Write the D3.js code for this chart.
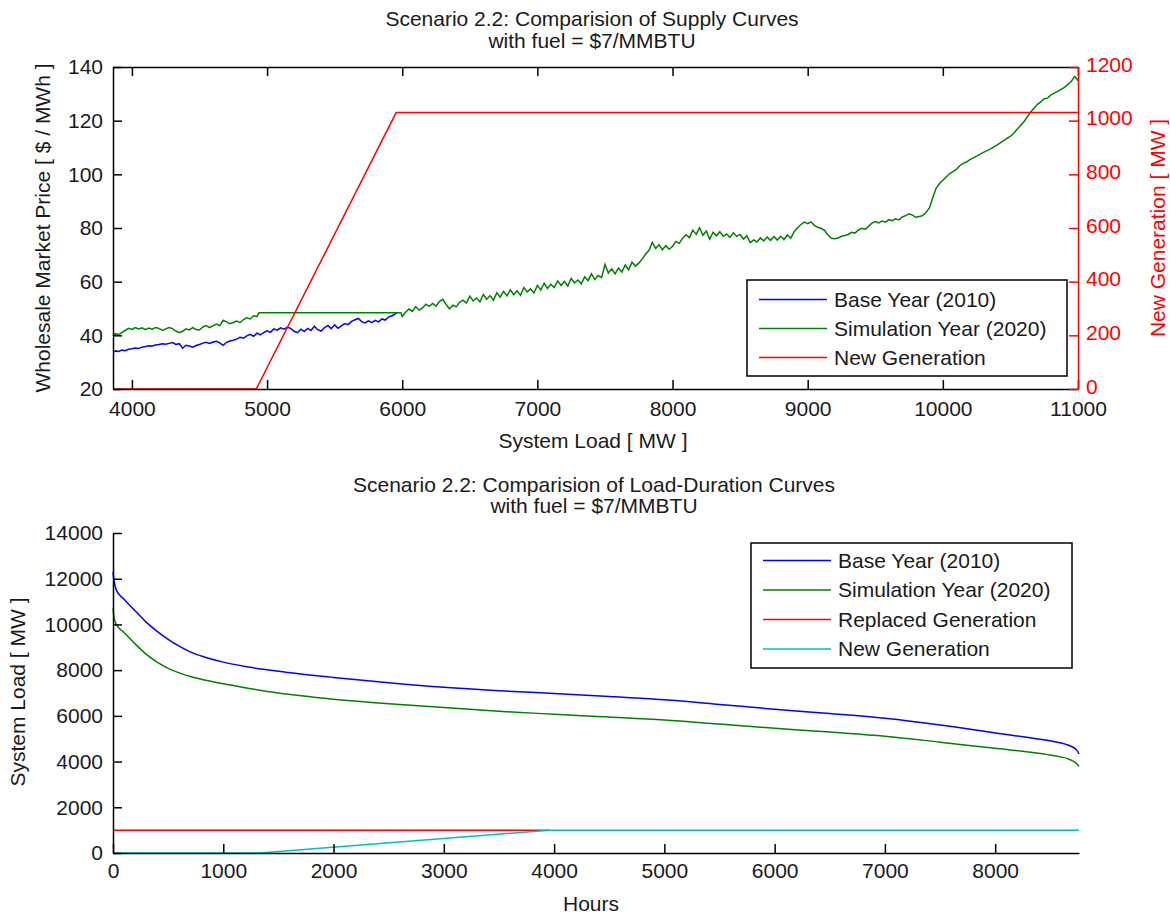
<!DOCTYPE html>
<html>
<head>
<meta charset="utf-8">
<script src="https://cdn.jsdelivr.net/npm/d3@7"></script>
<style>
  body { margin: 0; background: #fff; }
  svg { display: block; font-family: "Liberation Sans", Arial, sans-serif; }
</style>
</head>
<body>
<div id="chart"></div>
<script>
// ---- data: supply curves (load MW, price $/MWh) ----
const baseSupply = [
  [3860,33.6],[3880,34.2],[3900,34.0],[3925,34.5],[3950,34.3],[3975,34.8],[4000,35.0],[4025,35.3],[4050,35.1],[4075,35.6],
  [4100,35.8],[4125,36.1],[4150,36.0],[4175,36.4],[4200,36.6],[4225,36.9],[4250,36.7],[4275,37.0],[4300,37.3],[4325,36.6],
  [4350,36.9],[4375,35.2],[4400,36.3],[4425,36.0],[4450,35.6],[4475,36.2],[4500,36.6],[4525,37.1],[4550,37.4],[4575,37.0],
  [4600,37.5],[4625,37.8],[4650,37.2],[4675,36.3],[4700,37.4],[4725,37.9],[4750,38.2],[4775,38.6],[4800,39.3],[4825,38.9],
  [4850,39.8],[4875,40.4],[4900,39.6],[4925,40.8],[4950,40.2],[4975,41.0],[5000,41.7],[5025,41.1],[5050,42.4],[5075,41.9],
  [5100,42.8],[5125,42.3],[5150,43.0],[5175,42.6],[5200,41.5],[5225,41.0],[5250,42.3],[5275,41.4],[5300,42.6],[5325,41.8],
  [5350,43.4],[5375,42.1],[5400,41.6],[5425,42.9],[5450,43.7],[5475,42.5],[5500,43.9],[5525,42.6],[5550,43.5],[5575,44.4],
  [5600,44.0],[5625,45.2],[5650,45.8],[5675,46.3],[5700,45.1],[5725,44.6],[5750,45.4],[5775,44.7],[5800,45.6],[5825,45.0],
  [5850,46.1],[5875,45.7],[5900,46.9],[5925,47.3],[5950,48.0],[5960,48.4]
];

const simSupply = [
  [3860,39.8],[3880,40.6],[3900,40.2],[3925,41.0],[3950,41.8],[3975,42.6],[4000,42.2],[4025,42.9],[4050,42.4],[4075,42.8],
  [4100,42.1],[4125,42.7],[4150,42.3],[4175,42.9],[4200,42.6],[4225,41.8],[4250,42.4],[4275,42.9],[4300,42.5],[4325,41.6],
  [4350,41.0],[4375,41.5],[4400,42.4],[4425,42.0],[4450,42.9],[4475,42.2],[4500,42.0],[4525,43.1],[4550,43.6],[4575,42.9],
  [4600,43.5],[4625,44.2],[4650,43.6],[4675,45.6],[4700,45.0],[4725,44.3],[4750,44.8],[4775,45.3],[4800,44.7],[4825,45.9],
  [4850,46.5],[4875,46.1],[4900,47.3],[4925,47.0],[4940,48.4],[5990,48.4],
  [6000,47.0],[6025,48.6],[6050,49.8],[6075,48.9],[6100,50.7],[6125,49.4],[6150,50.2],[6175,51.6],[6200,50.8],[6225,51.9],
  [6250,50.9],[6275,52.6],[6300,53.4],[6325,51.5],[6350,49.9],[6375,51.2],[6400,50.6],[6425,52.4],[6450,53.1],[6475,52.0],
  [6500,54.6],[6525,52.8],[6550,53.9],[6575,52.5],[6600,55.2],[6625,53.4],[6650,54.8],[6675,53.1],[6700,55.9],[6725,54.2],
  [6750,56.4],[6775,54.7],[6800,57.0],[6825,55.1],[6850,56.6],[6875,54.9],[6900,57.8],[6925,56.2],[6950,57.3],[6975,55.8],
  [7000,58.6],[7025,56.9],[7050,59.4],[7075,57.5],[7100,59.0],[7125,57.8],[7150,60.3],[7175,58.6],[7200,60.1],[7225,58.4],
  [7250,61.2],[7275,59.5],[7300,60.6],[7325,59.2],[7350,61.8],[7375,60.4],[7400,62.9],[7425,60.8],[7450,62.3],[7475,61.5],
  [7500,66.4],[7525,63.2],[7550,64.8],[7575,62.9],[7600,65.1],[7625,63.6],[7650,66.2],[7675,64.4],[7700,67.3],[7725,65.8],
  [7750,66.9],[7775,68.4],[7800,70.2],[7825,71.6],[7850,74.6],[7875,72.4],[7900,73.8],[7925,71.9],[7950,73.4],[7975,72.1],
  [8000,73.2],[8025,75.0],[8050,74.3],[8075,76.2],[8100,77.5],[8125,76.4],[8150,79.2],[8175,77.6],[8200,80.1],[8225,77.3],
  [8250,78.9],[8275,75.8],[8300,78.4],[8325,77.1],[8350,78.6],[8375,76.9],[8400,77.8],[8425,76.5],[8450,78.2],[8475,76.9],
  [8500,77.6],[8525,75.9],[8550,77.1],[8575,74.6],[8600,75.6],[8625,74.8],[8650,76.3],[8675,75.2],[8700,76.6],[8725,75.4],
  [8750,76.8],[8775,75.5],[8800,76.9],[8825,75.7],[8850,77.4],[8875,76.2],[8900,78.6],[8925,80.1],[8950,81.3],[8975,82.2],
  [9000,81.6],[9025,82.3],[9050,80.9],[9075,80.3],[9100,79.8],[9125,79.1],[9150,77.4],[9175,76.2],[9200,76.0],[9225,76.3],
  [9250,76.9],[9275,77.2],[9300,77.6],[9325,78.4],[9350,78.1],[9375,79.3],[9400,79.9],[9425,79.5],[9450,80.6],[9475,81.8],
  [9500,82.4],[9525,81.9],[9550,82.6],[9575,82.2],[9600,83.1],[9625,82.7],[9650,83.4],[9675,83.0],[9700,84.1],[9725,84.6],
  [9750,85.3],[9775,84.8],[9800,84.0],[9825,84.3],[9850,84.6],[9875,85.8],[9900,87.4],[9925,91.2],[9950,94.8],[9975,96.6],
  [10000,97.8],[10025,99.0],[10050,100.3],[10075,101.0],[10100,101.8],[10125,103.2],[10150,104.1],[10175,104.6],[10200,105.5],
  [10250,106.8],[10300,108.2],[10350,109.4],[10400,110.9],[10450,112.6],[10500,114.2],[10525,115.3],[10550,116.8],[10600,119.6],
  [10650,123.2],[10700,126.1],[10725,127.0],[10750,128.2],[10775,128.4],[10800,129.6],[10850,130.9],[10900,132.4],[10950,134.6],
  [10975,136.4],[10990,135.7],[11000,134.9]
];

// new generation on the right axis (MW)
const newGenLoad = [3860, 4920, 5955, 11000];
const newGenMW = [0, 0, 1030, 1030];

// ---- data: load-duration curves ----
const hours = [0, 10, 30, 100, 200, 300, 400, 500, 600, 700, 800, 1000, 1200, 1500, 2000, 2500, 3000, 3500,
  4000, 4500, 5000, 5500, 6000, 6500, 7000, 7500, 8000, 8300, 8540, 8680, 8740, 8760];
const baseLoad = [12300, 11900, 11500, 11100, 10600, 10100, 9700, 9350, 9050, 8800, 8620, 8350, 8160, 7950, 7680, 7450, 7250, 7100,
  6980, 6850, 6700, 6500, 6290, 6100, 5890, 5600, 5250, 5050, 4870, 4680, 4500, 4330];
const simLoad = [10700, 10300, 10000, 9650, 9150, 8700, 8350, 8080, 7880, 7720, 7600, 7400, 7230, 7000, 6730, 6530, 6370, 6200,
  6070, 5950, 5820, 5640, 5460, 5290, 5110, 4850, 4580, 4420, 4250, 4080, 3900, 3780];
const replacedHours = [0, 3960];
const replacedMW = [1000, 1000];
const newHours = [0, 1330, 3960, 8760];
const newMW = [0, 0, 1000, 1000];

// ---- ticks ----
const loadTicks = [4000, 5000, 6000, 7000, 8000, 9000, 10000, 11000];
const priceTicks = [20, 40, 60, 80, 100, 120, 140];
const genTicks = [0, 200, 400, 600, 800, 1000, 1200];
const hourTicks = [0, 1000, 2000, 3000, 4000, 5000, 6000, 7000, 8000];
const ldTicks = [0, 2000, 4000, 6000, 8000, 10000, 12000, 14000];

const width = 1170;
const height = 916;
const BLUE = '#0000ff';
const GREEN = '#008000';
const RED = '#ff0000';
const CYAN = '#00bfbf';
const INK = '#1a1a1a';
const FONT = 21;
const TICK = 9;
const fmt = d3.format('d');

const svg = d3.select('#chart').append('svg')
  .attr('width', width)
  .attr('height', height);

svg.append('rect').attr('width', width).attr('height', height).attr('fill', '#fff');

const styleAxis = (g, color) => {
  g.attr('font-size', FONT).attr('font-family', null);
  g.select('.domain').attr('stroke', color).attr('stroke-width', 1.5);
  g.selectAll('.tick line').attr('stroke', color).attr('stroke-width', 1.5);
  g.selectAll('.tick text').attr('fill', color === '#000' ? INK : color);
};

const addText = (txt, x, y, opts = {}) => {
  const t = svg.append('text')
    .attr('x', x).attr('y', y)
    .attr('text-anchor', 'middle')
    .attr('font-size', FONT)
    .attr('fill', opts.color || INK)
    .text(txt);
  if (opts.rotate) {
    t.attr('x', 0).attr('y', 0).attr('dy', '0.35em')
      .attr('transform', `translate(${x},${y}) rotate(-90)`);
  }
  return t;
};

const drawLegend = (box, items) => {
  const g = svg.append('g');
  g.append('rect')
    .attr('x', box.x).attr('y', box.y)
    .attr('width', box.w).attr('height', box.h)
    .attr('fill', '#fff').attr('stroke', '#000').attr('stroke-width', 1.5);
  items.forEach((it, i) => {
    const cy = box.firstRow + i * box.step;
    g.append('line')
      .attr('x1', box.x + 12).attr('x2', box.x + 80)
      .attr('y1', cy).attr('y2', cy)
      .attr('stroke', it.color).attr('stroke-width', 1.5);
    g.append('text')
      .attr('x', box.x + 87).attr('y', cy).attr('dy', '0.35em')
      .attr('font-size', FONT).attr('fill', INK)
      .text(it.label);
  });
};

// ================= top panel: supply curves =================
const p1 = { left: 113, right: 1078, top: 67, bottom: 389 };
const x1 = d3.scaleLinear().domain([3860, 11000]).range([p1.left, p1.right]);
const y1 = d3.scaleLinear().domain([20, 140]).range([p1.bottom, p1.top]);
const y1r = d3.scaleLinear().domain([0, 1200]).range([p1.bottom, p1.top]);

const supplyLine = d3.line().x(d => x1(d[0])).y(d => y1(d[1]));

svg.append('path').datum(baseSupply)
  .attr('d', supplyLine).attr('fill', 'none').attr('stroke', BLUE).attr('stroke-width', 1.5);
svg.append('path').datum(simSupply)
  .attr('d', supplyLine).attr('fill', 'none').attr('stroke', GREEN).attr('stroke-width', 1.5);
svg.append('path').datum(newGenLoad.map((v, i) => [v, newGenMW[i]]))
  .attr('d', d3.line().x(d => x1(d[0])).y(d => y1r(d[1])))
  .attr('fill', 'none').attr('stroke', RED).attr('stroke-width', 1.5);

svg.append('g').attr('transform', `translate(0,${p1.bottom})`)
  .call(d3.axisBottom(x1).tickValues(loadTicks).tickFormat(fmt).tickSizeInner(-TICK).tickSizeOuter(0).tickPadding(12))
  .call(g => styleAxis(g, '#000'));
svg.append('g').attr('transform', `translate(0,${p1.top})`)
  .call(d3.axisTop(x1).tickValues(loadTicks).tickSizeInner(-TICK).tickSizeOuter(0).tickFormat(''))
  .call(g => styleAxis(g, '#000'));
svg.append('g').attr('transform', `translate(${p1.left},0)`)
  .call(d3.axisLeft(y1).tickValues(priceTicks).tickFormat(fmt).tickSizeInner(-TICK).tickSizeOuter(0).tickPadding(10))
  .call(g => styleAxis(g, '#000'));
svg.append('g').attr('transform', `translate(${p1.right},0)`)
  .call(d3.axisRight(y1r).tickValues(genTicks).tickFormat(fmt).tickSizeInner(-TICK).tickSizeOuter(0).tickPadding(8))
  .call(g => styleAxis(g, RED))
  .call(g => g.selectAll('.tick text').attr('dy', '0.2em'));

addText('Scenario 2.2: Comparision of Supply Curves', 592, 26);
addText('with fuel = $7/MMBTU', 592, 48);
addText('System Load [ MW ]', 593, 448);
addText('Wholesale Market Price [ $ / MWh ]', 43, 228, { rotate: true });
addText('New Generation [ MW ]', 1158, 228, { rotate: true, color: RED });

drawLegend({ x: 747, y: 280, w: 320, h: 96, firstRow: 299.5, step: 29 }, [
  { label: 'Base Year (2010)', color: BLUE },
  { label: 'Simulation Year (2020)', color: GREEN },
  { label: 'New Generation', color: RED }
]);

// ================= bottom panel: load-duration curves =================
const p2 = { left: 113, right: 1079, top: 533, bottom: 853 };
const x2 = d3.scaleLinear().domain([0, 8760]).range([p2.left, p2.right]);
const y2 = d3.scaleLinear().domain([0, 14000]).range([p2.bottom, p2.top]);

const ldLine = d3.line().x(d => x2(d[0])).y(d => y2(d[1]));
const series2 = [
  { h: hours, v: baseLoad, color: BLUE, curve: d3.curveMonotoneX },
  { h: hours, v: simLoad, color: GREEN, curve: d3.curveMonotoneX },
  { h: replacedHours, v: replacedMW, color: RED, curve: d3.curveLinear },
  { h: newHours, v: newMW, color: CYAN, curve: d3.curveLinear }
];
series2.forEach(s => {
  svg.append('path').datum(s.h.map((h, i) => [h, s.v[i]]))
    .attr('d', ldLine.curve(s.curve))
    .attr('fill', 'none').attr('stroke', s.color).attr('stroke-width', 1.5);
});

svg.append('g').attr('transform', `translate(0,${p2.bottom})`)
  .call(d3.axisBottom(x2).tickValues(hourTicks).tickFormat(fmt).tickSizeInner(-TICK).tickSizeOuter(0).tickPadding(10))
  .call(g => styleAxis(g, '#000'));
svg.append('g').attr('transform', `translate(${p2.left},0)`)
  .call(d3.axisLeft(y2).tickValues(ldTicks).tickFormat(fmt).tickSizeInner(-TICK).tickSizeOuter(0).tickPadding(10))
  .call(g => styleAxis(g, '#000'));

addText('Scenario 2.2: Comparision of Load-Duration Curves', 594, 492);
addText('with fuel = $7/MMBTU', 594, 513);
addText('Hours', 591, 911);
addText('System Load [ MW ]', 18, 692, { rotate: true });

drawLegend({ x: 751, y: 543, w: 321, h: 125, firstRow: 560.5, step: 29.5 }, [
  { label: 'Base Year (2010)', color: BLUE },
  { label: 'Simulation Year (2020)', color: GREEN },
  { label: 'Replaced Generation', color: RED },
  { label: 'New Generation', color: CYAN }
]);
</script>
</body>
</html>
